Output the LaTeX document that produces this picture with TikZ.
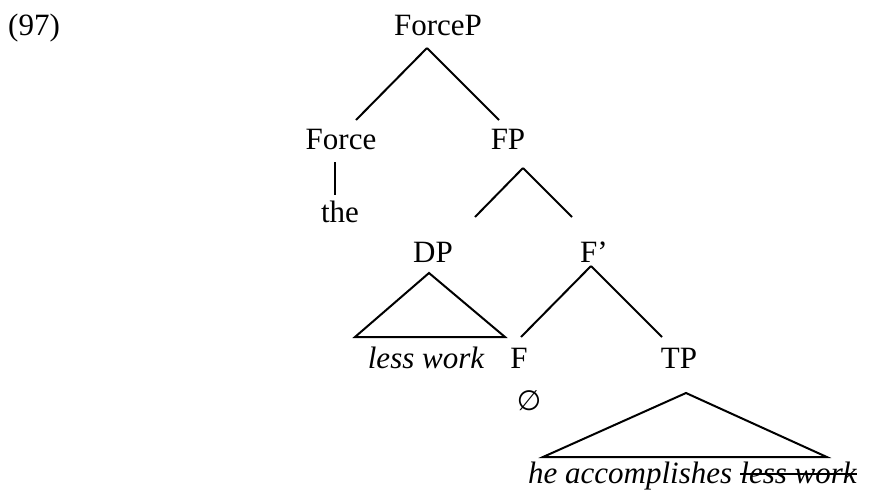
\documentclass[tikz,border=0pt]{standalone}
\usepackage{amsmath}
\usepackage{fontspec}
\setmainfont{Liberation Serif}
\newfontfamily\symbolfont{DejaVu Sans}
\usepackage{tikz}

\tikzset{
  lbl/.style={anchor=base, inner sep=0pt, font=\rmfamily\fontsize{31}{36}\selectfont},
  branch/.style={line width=2pt},
}

\begin{document}
\begin{tikzpicture}[x=1pt, y=1pt]
      \useasboundingbox (0,0) rectangle (871,-491);
      \node[lbl, anchor=base west] (num) at (8,-35) {(97)};
      \node[lbl] (forcep) at (438,-35) {ForceP};
      \node[lbl] (force) at (341,-149) {Force};
      \node[lbl] (fp) at (508,-149) {FP};
      \node[lbl] (the) at (340,-222) {the};
      \node[lbl] (dp) at (433,-262) {DP};
      \node[lbl] (fbar) at (594,-262) {F’};
      \node[lbl] (lesswork) at (426,-368) {\itshape less work};
      \node[lbl] (f) at (519,-368) {F};
      \node[lbl] (tp) at (679,-368) {TP};
      \node[lbl, anchor=center] (empty) at (529,-401) {\symbolfont\fontsize{28}{32}\selectfont ∅};
      \node[lbl, anchor=base west] (tpwords) at (528,-483) {\itshape he accomplishes};
      \node[lbl, anchor=base west] (struck) at ([xshift=7.75]tpwords.base east) {\itshape less work};
      \draw[line width=1.6pt] ([yshift=9]struck.base west) -- ([yshift=9]struck.base east);
      % ForceP
      \draw[branch] ([shift={(-11,-13)}]forcep.base) -- ([shift={(15,29)}]force.base);
      \draw[branch] ([shift={(-11,-13)}]forcep.base) -- ([shift={(-9,29)}]fp.base);
      \draw[branch] ([shift={(-6,-13)}]force.base) -- ([shift={(-5,27)}]the.base);
      % FP
      \draw[branch] ([shift={(15,-19)}]fp.base) -- ([shift={(42,45)}]dp.base);
      \draw[branch] ([shift={(15,-19)}]fp.base) -- ([shift={(-22,45)}]fbar.base);
      % DP triangle
      \draw[branch] ([shift={(-4,-11)}]dp.base) -- ([shift={(-71,31)}]lesswork.base)
        -- ([shift={(79,31)}]lesswork.base) -- cycle;
      % F'
      \draw[branch] ([shift={(-3,-4)}]fbar.base) -- ([shift={(2,31)}]f.base);
      \draw[branch] ([shift={(-3,-4)}]fbar.base) -- ([shift={(-17,31)}]tp.base);
      % TP triangle
      \draw[branch] ([shift={(7,-25)}]tp.base) -- ([shift={(15,26)}]tpwords.base west)
        -- ([shift={(-30,26)}]struck.base east) -- cycle;
    \end{tikzpicture}
\end{document}
